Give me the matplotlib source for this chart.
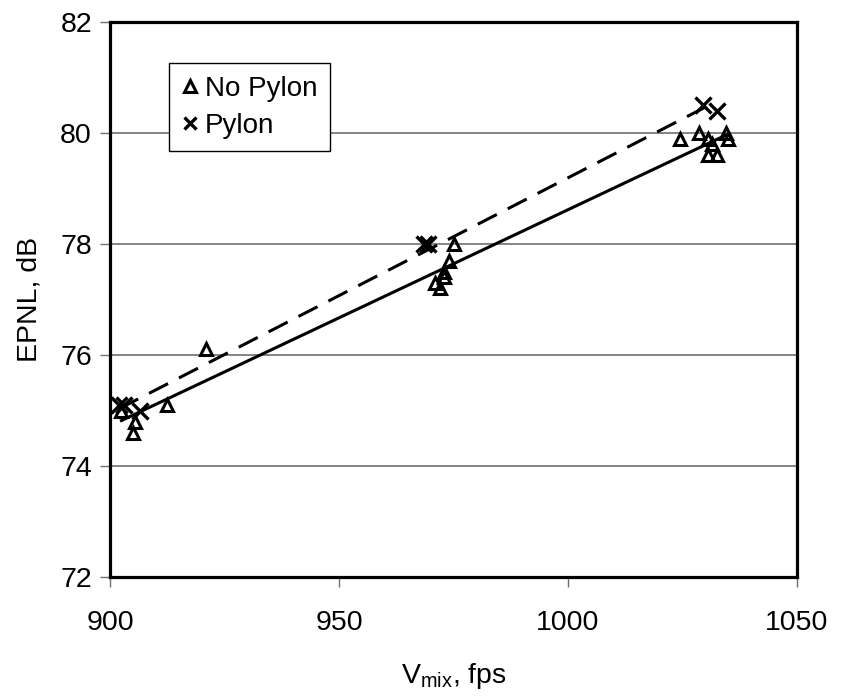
import numpy as np
import matplotlib
matplotlib.use("Agg")
import matplotlib.pyplot as plt
from matplotlib.lines import Line2D

plt.rcParams['font.family'] = ['Liberation Sans', 'DejaVu Sans']
plt.rcParams['mathtext.fontset'] = 'custom'
plt.rcParams['mathtext.rm'] = 'Liberation Sans'
plt.rcParams['mathtext.it'] = 'Liberation Sans'

# No Pylon data
nopylon_x = [902.5, 905.5, 905.0, 912.5, 921.0,
             975.0, 974.0, 973.0, 973.0, 971.0, 972.0,
             1024.5, 1028.5, 1030.5, 1031.5, 1034.5, 1035.0, 1030.5, 1032.5]
nopylon_y = [75.0, 74.8, 74.6, 75.1, 76.1,
             78.0, 77.7, 77.5, 77.4, 77.3, 77.2,
             79.9, 80.0, 79.9, 79.8, 80.0, 79.9, 79.6, 79.6]

# Pylon data
pylon_x = [902.0, 903.0, 906.5, 968.5, 969.5, 1029.5, 1032.5]
pylon_y = [75.1, 75.1, 75.0, 78.0, 78.0, 80.5, 80.4]

xticks = [900, 950, 1000, 1050]
yticks = [72, 74, 76, 78, 80, 82]

fig = plt.figure(figsize=(8.43, 7.0), dpi=100)
ax = fig.add_axes([110/843, 1-577/700, 687/843, 555/700])

ax.set_xlim(900, 1050)
ax.set_ylim(72, 82)

for yv in [74, 76, 78, 80]:
    ax.axhline(yv, color='#707070', lw=1.2, zorder=1)

# Linear trendlines
npx = np.array(nopylon_x); npy = np.array(nopylon_y)
c1 = np.polyfit(npx, npy, 1)
xs1 = np.array([npx.min(), npx.max()])
ax.plot(xs1, np.polyval(c1, xs1), color='black', lw=2.2, zorder=2)

px = np.array(pylon_x); py = np.array(pylon_y)
c2 = np.polyfit(px, py, 1)
xs2 = np.array([px.min(), px.max()])
ax.plot(xs2, np.polyval(c2, xs2), color='black', lw=2.2, ls=(0, (7, 4)), zorder=2)

ax.plot(nopylon_x, nopylon_y, ls='none', marker='^', ms=9, mfc='none',
        mec='black', mew=2.2, zorder=3)
ax.plot(pylon_x, pylon_y, ls='none', marker='x', ms=11, mec='black',
        mew=2.4, zorder=3)

for s in ax.spines.values():
    s.set_linewidth(2.3)
    s.set_color('black')

ax.set_xticks(xticks)
ax.set_yticks(yticks)
ax.tick_params(axis='both', direction='out', length=7, width=1,
               color='#707070', labelsize=20.5, pad=6)
ax.tick_params(axis='x', pad=17)

ax.set_ylabel('EPNL, dB', fontsize=20.5, labelpad=13)
ax.set_xlabel(r'V$_{\mathrm{mix}}$, fps', fontsize=20.5, labelpad=18)

handles = [Line2D([], [], ls='none', marker='^', ms=9, mfc='none', mec='black', mew=2.2),
           Line2D([], [], ls='none', marker='x', ms=9, mec='black', mew=2.4)]
leg = ax.legend(handles, ['No Pylon', 'Pylon'], loc='upper left',
                bbox_to_anchor=(59/687, 1-41/555), fontsize=20,
                frameon=True, fancybox=False, shadow=False,
                handlelength=0.6, handletextpad=0.25, borderpad=0.45,
                labelspacing=0.4, borderaxespad=0)
leg.get_frame().set_edgecolor('black')
leg.get_frame().set_linewidth(1.0)
leg.get_frame().set_alpha(1)
leg.set_zorder(5)

fig.savefig('out.png', dpi=100, facecolor='white')
